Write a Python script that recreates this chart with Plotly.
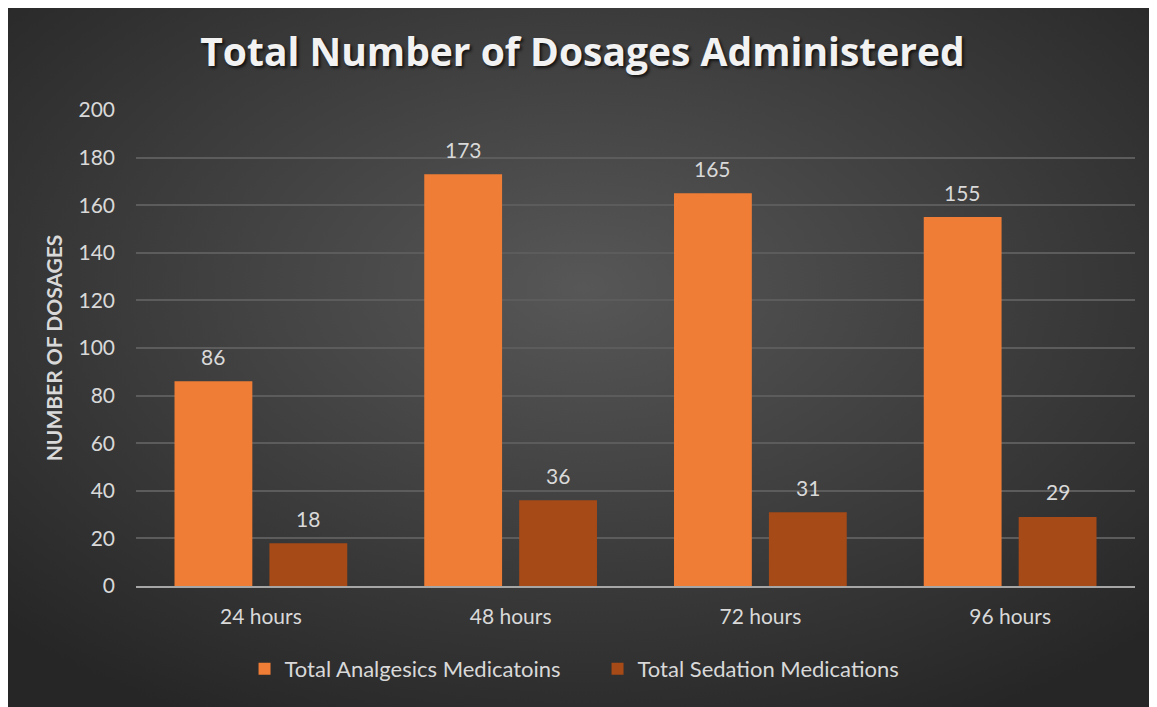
import plotly.graph_objects as go
from urllib.parse import quote

categories = ["24 hours", "48 hours", "72 hours", "96 hours"]
analgesics = [86, 173, 165, 155]
sedation = [18, 36, 31, 29]
series_names = ["Total Analgesics Medicatoins", "Total Sedation Medications"]
y_ticks = [0, 20, 40, 60, 80, 100, 120, 140, 160, 180, 200]

W, H = 1149, 699
ML, MR, MT, MB = 128, 22, 102, 121
PW, PH = W - ML - MR, H - MT - MB
BARGAP = 0.24
FONT = "Lato"
TXT = "#d9d9d9"

fig = go.Figure()
fig.add_trace(go.Bar(x=categories, y=analgesics, name=series_names[0],
                     marker=dict(color="#F07D35", line=dict(width=0))))
fig.add_trace(go.Bar(x=categories, y=sedation, name=series_names[1],
                     marker=dict(color="#A64A17", line=dict(width=0))))

# data labels above bars
slot = PW / len(categories) * (1 - BARGAP) / 2
for vals, sh in ((analgesics, -slot / 2), (sedation, slot / 2)):
    for c, v in zip(categories, vals):
        fig.add_annotation(x=c, y=v, text=str(v), showarrow=False, xshift=sh,
                           yshift=25, yanchor="middle",
                           font=dict(family=FONT, size=21, color=TXT))

svg = ("<svg xmlns='http://www.w3.org/2000/svg' width='%d' height='%d' preserveAspectRatio='none'>"
       "<defs><radialGradient id='g' cx='50%%' cy='40%%' r='70%%'>"
       "<stop offset='0' stop-color='#575757'/><stop offset='1' stop-color='#262626'/>"
       "</radialGradient></defs><rect width='100%%' height='100%%' fill='url(#g)'/></svg>") % (W, H)
bg = "data:image/svg+xml;charset=utf-8," + quote(svg)

fig.update_layout(
    width=W, height=H,
    margin=dict(l=ML, r=MR, t=MT, b=MB),
    paper_bgcolor="#3a3a3a", plot_bgcolor="rgba(0,0,0,0)",
    images=[dict(source=bg, xref="paper", yref="paper",
                 x=-ML / PW, y=1 + MT / PH, sizex=W / PW, sizey=H / PH,
                 xanchor="left", yanchor="top", sizing="stretch", layer="below")],
    barmode="group", bargap=BARGAP, bargroupgap=0.18,
    font=dict(family=FONT, size=21, color=TXT),
    title=dict(text="Total Number of Dosages Administered", x=0.5, xanchor="center",
               y=1 - 44 / H, yanchor="middle",
               font=dict(family="Open Sans", size=39, color="#f2f2f2", weight="bold",
                         shadow="2px 2px 3px rgba(0,0,0,0.7)")),
    legend=dict(orientation="h", x=0.462, xanchor="center", y=-83 / PH, yanchor="middle",
                font=dict(family=FONT, size=22, color=TXT), bgcolor="rgba(0,0,0,0)",
                itemwidth=30, traceorder="normal", entrywidth=308, entrywidthmode="pixels"),
    showlegend=True,
)
fig.update_xaxes(showgrid=False, showline=True, linecolor="#a6a6a6", linewidth=2,
                 ticks="", ticklabelstandoff=11,
                 tickfont=dict(family=FONT, size=21, color=TXT))
fig.update_yaxes(range=[0, 200], tickvals=y_ticks, showgrid=True, gridcolor="#5c5c5c",
                 gridwidth=1.5, zeroline=False, showline=False, ticks="",
                 ticklabelstandoff=20, tickfont=dict(family=FONT, size=21, color=TXT),
                 title=dict(text="NUMBER OF DOSAGES", standoff=10,
                            font=dict(family=FONT, size=21, color=TXT, weight="bold")))

fig.write_html("out.html")
